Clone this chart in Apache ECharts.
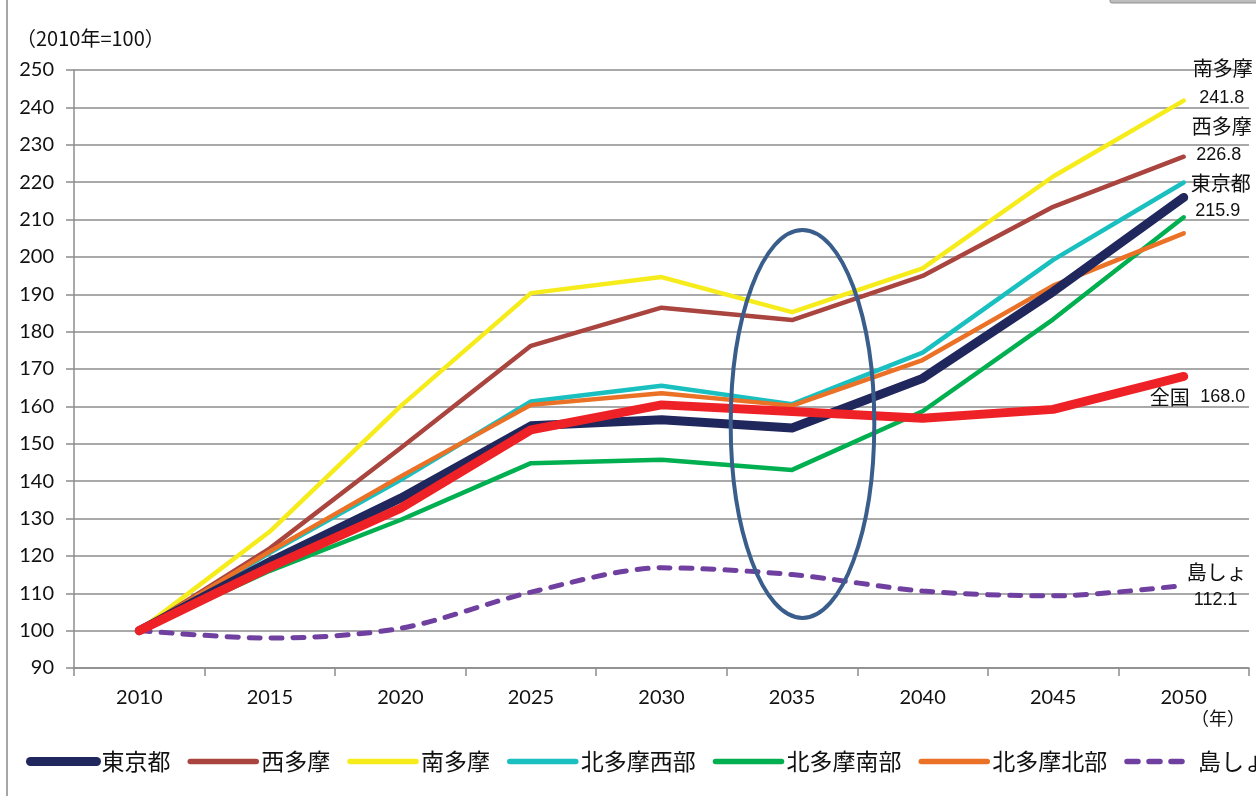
<!DOCTYPE html>
<html>
<head>
<meta charset="utf-8">
<script src="https://cdn.jsdelivr.net/npm/echarts@6/dist/echarts.min.js"></script>
<style>
html,body{margin:0;padding:0;background:#fff;}
#chart{width:1256px;height:796px;}
</style>
</head>
<body>
<div id="chart"></div>
<script>
const years = ['2010','2015','2020','2025','2030','2035','2040','2045','2050'];
const yTicks = {min: 90, max: 250, interval: 10};

const tokyo     = [100, 118.4, 135.4, 154.8, 156.4, 154.2, 167.5, 190.7, 215.9];
const nishiTama = [100, 122.0, 148.8, 176.2, 186.4, 183.1, 194.9, 213.4, 226.8];
const minamiTama= [100, 126.5, 160.0, 190.3, 194.6, 185.2, 196.9, 221.5, 241.8];
const kitaWest  = [100, 120.8, 140.3, 161.3, 165.5, 160.6, 174.4, 199.2, 219.9];
const kitaSouth = [100, 116.0, 129.6, 144.8, 145.7, 143.0, 158.7, 183.3, 210.6];
const kitaNorth = [100, 121.2, 141.2, 160.4, 163.5, 160.2, 172.4, 192.3, 206.3];
const islands   = [100, 98.0, 100.6, 110.3, 116.8, 115.0, 110.6, 109.3, 112.1];
const national  = [100, 117.0, 132.7, 153.7, 160.4, 158.6, 156.8, 159.2, 168.0];

const legendNames = ['東京都','西多摩','南多摩','北多摩西部','北多摩南部','北多摩北部','島しょ'];
// end-of-line annotations: [name text, value text, series data]
const endNotes = [
  ['南多摩', '241.8', minamiTama],
  ['西多摩', '226.8', nishiTama],
  ['東京都', '215.9', tokyo],
  ['島しょ', '112.1', islands]
];
const nationalNote = ['全国', '168.0'];
// ellipse annotation around 2035 (data units)
const ellipseCenter = {index: 5.08, value: 155.3};
const ellipseTopValue = 207.2;

const chart = echarts.init(document.getElementById('chart'));
const CJK = "'Noto Sans CJK JP'";

const S = {
  islands:   {color: '#7040a0', width: 5},
  kitaSouth: {color: '#00b050', width: 4.5},
  minami:    {color: '#f7ec1b', width: 4.5},
  nishi:     {color: '#a9443f', width: 4.5},
  kitaWest:  {color: '#19c0bf', width: 4.5},
  kitaNorth: {color: '#ea7126', width: 4.5},
  tokyo:     {color: '#1f275c', width: 9},
  national:  {color: '#ee2226', width: 9}
};

function mk(name, data, st, extra) {
  return Object.assign({
    name: name,
    type: 'line',
    data: data,
    symbol: 'none',
    showSymbol: false,
    animation: false,
    lineStyle: {color: st.color, width: st.width, cap: 'round', join: 'round'},
    itemStyle: {color: st.color},
    emphasis: {disabled: true}
  }, extra || {});
}

const series = [
  mk('島しょ', islands, S.islands, {
    smooth: 0.3,
    lineStyle: {color: S.islands.color, width: S.islands.width, type: [11, 11], cap: 'round'}
  }),
  mk('北多摩南部', kitaSouth, S.kitaSouth),
  mk('南多摩', minamiTama, S.minami),
  mk('西多摩', nishiTama, S.nishi),
  mk('北多摩西部', kitaWest, S.kitaWest),
  mk('北多摩北部', kitaNorth, S.kitaNorth),
  mk('東京都', tokyo, S.tokyo),
  mk('全国', national, S.national)
];

const legendWidths = {'東京都': 9, '島しょ': 5.5};

const option = {
  backgroundColor: '#fff',
  animation: false,
  grid: {left: 74, right: 7, top: 70, bottom: 128, containLabel: false},
  xAxis: {
    type: 'category',
    data: years,
    boundaryGap: true,
    axisLine: {lineStyle: {color: '#8c8c8c', width: 1.5}},
    axisTick: {show: true, length: 8, lineStyle: {color: '#8c8c8c', width: 1.5}},
    axisLabel: {color: '#111', fontFamily: "Lato, 'Noto Sans CJK JP'", fontSize: 20, margin: 20},
    splitLine: {show: false}
  },
  yAxis: {
    type: 'value',
    min: yTicks.min, max: yTicks.max, interval: yTicks.interval,
    name: '（2010年=100）',
    nameLocation: 'end',
    nameGap: 22,
    nameTextStyle: {color: '#111', fontFamily: CJK, fontSize: 20, align: 'left', padding: [0, 0, 0, -58]},
    axisLine: {show: true, lineStyle: {color: '#8c8c8c', width: 1.5}},
    axisTick: {show: true, length: 8, lineStyle: {color: '#8c8c8c', width: 1.5}},
    axisLabel: {color: '#111', fontFamily: "Lato, 'Noto Sans CJK JP'", fontSize: 20, margin: 20},
    splitLine: {show: true, lineStyle: {color: '#8c8c8c', width: 1.5}}
  },
  legend: {
    data: legendNames.map(n => ({name: n, lineStyle: {width: legendWidths[n] || 5.5}})),
    left: 26,
    top: 750,
    width: 1300,
    padding: 0,
    itemWidth: 66,
    itemHeight: 14,
    itemGap: 17,
    selectedMode: false,
    itemStyle: {opacity: 0},
    textStyle: {color: '#111', fontFamily: CJK, fontSize: 23}
  },
  series: series
};

chart.setOption(option);

const px = (i, v) => chart.convertToPixel({xAxisIndex: 0, yAxisIndex: 0}, [i, v]);

// ellipse derived from data coordinates
const p5 = px(5, ellipseCenter.value);
const p6 = px(6, ellipseTopValue);
const step = p6[0] - p5[0];
const cx = p5[0] + (ellipseCenter.index - 5) * step;
const cy = p5[1];
const ry = cy - p6[1];
const rx = step * 0.55;

// end labels anchored at the last data point of each series
const noteOffsets = {
  '南多摩': [[39, -32], [38, -3]],
  '西多摩': [[38, -30], [35, -2]],
  '東京都': [[37, -14], [34, 14]],
  '島しょ': [[33, -13], [32, 15]]
};
const graphics = [];
endNotes.forEach(([name, val, data]) => {
  const p = px(data.length - 1, data[data.length - 1]);
  const o = noteOffsets[name];
  graphics.push({type: 'text', z: 50, style: {text: name, x: p[0] + o[0][0], y: p[1] + o[0][1],
    textAlign: 'center', textVerticalAlign: 'middle', fill: '#111', font: "20px 'Noto Sans CJK JP'"}});
  graphics.push({type: 'text', z: 50, style: {text: val, x: p[0] + o[1][0], y: p[1] + o[1][1],
    textAlign: 'center', textVerticalAlign: 'middle', fill: '#111', font: "18px 'Liberation Sans'"}});
});
const pn = px(national.length - 1, national[national.length - 1]);
graphics.push({type: 'text', z: 50, style: {text: nationalNote[0], x: pn[0] - 14, y: pn[1] + 21,
  textAlign: 'center', textVerticalAlign: 'middle', fill: '#111', font: "20px 'Noto Sans CJK JP'"}});
graphics.push({type: 'text', z: 50, style: {text: nationalNote[1], x: pn[0] + 39, y: pn[1] + 21,
  textAlign: 'center', textVerticalAlign: 'middle', fill: '#111', font: "18px 'Liberation Sans'"}});

graphics.push(
  {type: 'ellipse', shape: {cx: cx, cy: cy, rx: rx, ry: ry},
   style: {fill: null, stroke: '#3a5e8b', lineWidth: 4}, z: 100},
  {type: 'text', style: {text: '（年）', x: 1218, y: 718, textAlign: 'center', textVerticalAlign: 'middle',
   fill: '#111', font: "18px 'Noto Sans CJK JP'"}},
  {type: 'line', shape: {x1: 7, y1: 0, x2: 7, y2: 796}, style: {stroke: '#a6a6a6', lineWidth: 2}},
  {type: 'rect', shape: {x: 1110, y: -4, width: 150, height: 7, r: 2},
   style: {fill: '#bdbdbd', stroke: '#8f8f8f', lineWidth: 1}}
);

chart.setOption({graphic: graphics});
</script>
</body>
</html>
